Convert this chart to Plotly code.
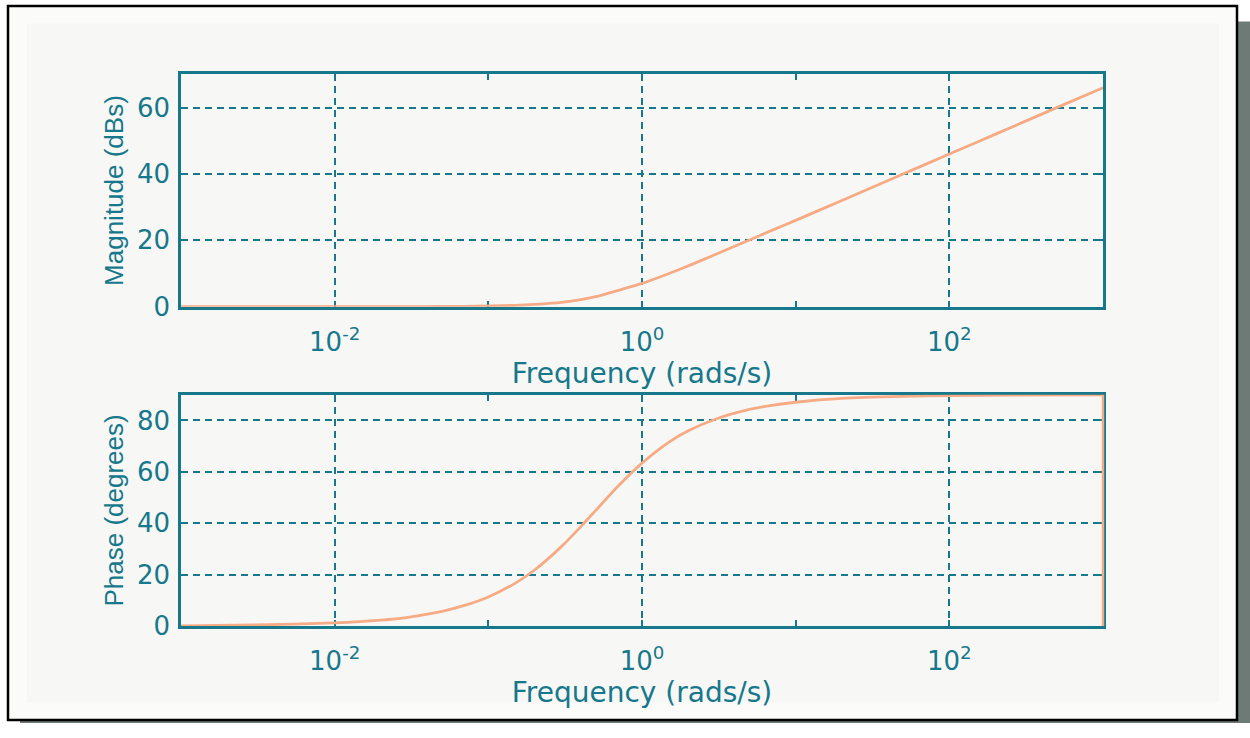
import plotly.graph_objects as go
from plotly.subplots import make_subplots

# Bode data: frequency (rad/s), magnitude (dB) and phase (degrees)
mag_freq = [0.001, 0.01, 0.03, 0.05, 0.07, 0.1, 0.15, 0.2, 0.3, 0.4, 0.5, 0.7,
            1, 1.5, 2, 3, 5, 7, 10, 20, 50, 100, 200, 500, 1000]
mag_db = [0.0, 0.0, 0.0, 0.05, 0.1, 0.2, 0.4, 0.7, 1.3, 2.1, 3.0, 4.9,
          7.0, 10.0, 12.3, 15.7, 20.1, 23.0, 26.0, 32.0, 40.0, 46.0, 52.0, 60.0, 66.0]

ph_freq = [0.001, 0.003, 0.01, 0.02, 0.03, 0.05, 0.07, 0.1, 0.15, 0.2, 0.3, 0.4,
           0.5, 0.7, 1, 1.5, 2, 3, 5, 7, 10, 20, 50, 100, 300, 1000]
ph_deg = [0.0, 0.4, 1.2, 2.3, 3.4, 5.7, 8.0, 11.3, 16.7, 21.8, 31.0, 38.7,
          45.0, 54.5, 63.4, 71.6, 76.0, 80.5, 84.3, 85.9, 87.1, 88.6, 89.4, 89.7, 89.9, 90.0]

x_ticks = [1e-2, 1, 1e2]
x_ticktext = ["10<sup>-2</sup>", "10<sup>0</sup>", "10<sup>2</sup>"]
x_minor = [1e-3, 1e-1, 1e1, 1e3]
mag_ticks = [0, 20, 40, 60]
ph_ticks = [0, 20, 40, 60, 80]

W, H = 1250, 738
TEAL = "#16788a"
ORANGE = "#f6ab85"
PANEL = "#f7f7f6"
FONT = "DejaVu Sans"

fig = make_subplots(rows=2, cols=1)

fig.add_trace(go.Scatter(x=mag_freq, y=mag_db, mode="lines",
                         line=dict(color=ORANGE, width=2.8, shape="spline", smoothing=0.6),
                         showlegend=False, hoverinfo="skip"), row=1, col=1)
fig.add_trace(go.Scatter(x=ph_freq, y=ph_deg, mode="lines",
                         line=dict(color=ORANGE, width=2.8, shape="spline", smoothing=0.6),
                         showlegend=False, hoverinfo="skip"), row=2, col=1)


def px_x(p):
    return p / W


def px_y(p):
    return 1 - p / H


xaxis_common = dict(
    type="log", range=[-3, 3],
    tickmode="array", tickvals=x_ticks, ticktext=x_ticktext,
    ticks="inside", ticklen=6, tickwidth=2, tickcolor=TEAL,
    showline=True, linecolor=TEAL, linewidth=2.5, mirror="ticks",
    showgrid=True, gridcolor=TEAL, gridwidth=2, griddash="7px,5px",
    minor=dict(tickvals=x_minor, ticks="inside", ticklen=6, tickwidth=2,
               tickcolor=TEAL, showgrid=False),
    tickfont=dict(family=FONT, size=26, color=TEAL),
    ticklabelstandoff=10,
    zeroline=False, layer="below traces",
    title=dict(text="Frequency (rads/s)", font=dict(family=FONT, size=28, color=TEAL),
               standoff=4),
)

yaxis_common = dict(
    tickmode="array",
    ticks="inside", ticklen=6, tickwidth=2, tickcolor=TEAL,
    showline=True, linecolor=TEAL, linewidth=2.5, mirror="ticks",
    showgrid=True, gridcolor=TEAL, gridwidth=2, griddash="7px,5px",
    tickfont=dict(family=FONT, size=26, color=TEAL),
    ticklabelstandoff=3,
    zeroline=False, layer="below traces",
)

fig.update_layout(
    width=W, height=H,
    margin=dict(l=0, r=0, t=0, b=0),
    paper_bgcolor="white",
    plot_bgcolor=PANEL,
    xaxis=dict(xaxis_common, domain=[px_x(181), px_x(1103)]),
    xaxis2=dict(xaxis_common, domain=[px_x(181), px_x(1103)]),
    yaxis=dict(yaxis_common, domain=[px_y(313), px_y(76)], range=[0, 70],
               tickvals=mag_ticks,
               title=dict(text="Magnitude (dBs)",
                          font=dict(family="Liberation Sans", size=26, color=TEAL),
                          standoff=6)),
    yaxis2=dict(yaxis_common, domain=[px_y(639), px_y(403)], range=[0, 90],
                tickvals=ph_ticks,
                title=dict(text="Phase (degrees)",
                           font=dict(family="Liberation Sans", size=26, color=TEAL),
                           standoff=6)),
    shapes=[
        # drop shadow behind the frame
        dict(type="rect", xref="paper", yref="paper", layer="below",
             x0=px_x(20), x1=px_x(1250), y0=px_y(738), y1=px_y(22),
             fillcolor="#6e7a76", line=dict(width=0)),
        # outer frame
        dict(type="rect", xref="paper", yref="paper", layer="below",
             x0=px_x(8), x1=px_x(1237), y0=px_y(735), y1=px_y(6),
             fillcolor="#fbfbfa", line=dict(color="black", width=2.5)),
        # inner panel
        dict(type="rect", xref="paper", yref="paper", layer="below",
             x0=px_x(27), x1=px_x(1219), y0=px_y(717), y1=px_y(24),
             fillcolor=PANEL, line=dict(width=0)),
        # right edge of the phase axes is drawn in the curve colour
        dict(type="line", xref="x2 domain", yref="y2 domain", layer="above",
             x0=1, x1=1, y0=0, y1=1, line=dict(color=ORANGE, width=2.5)),
    ],
)

fig.write_html("out.html")
